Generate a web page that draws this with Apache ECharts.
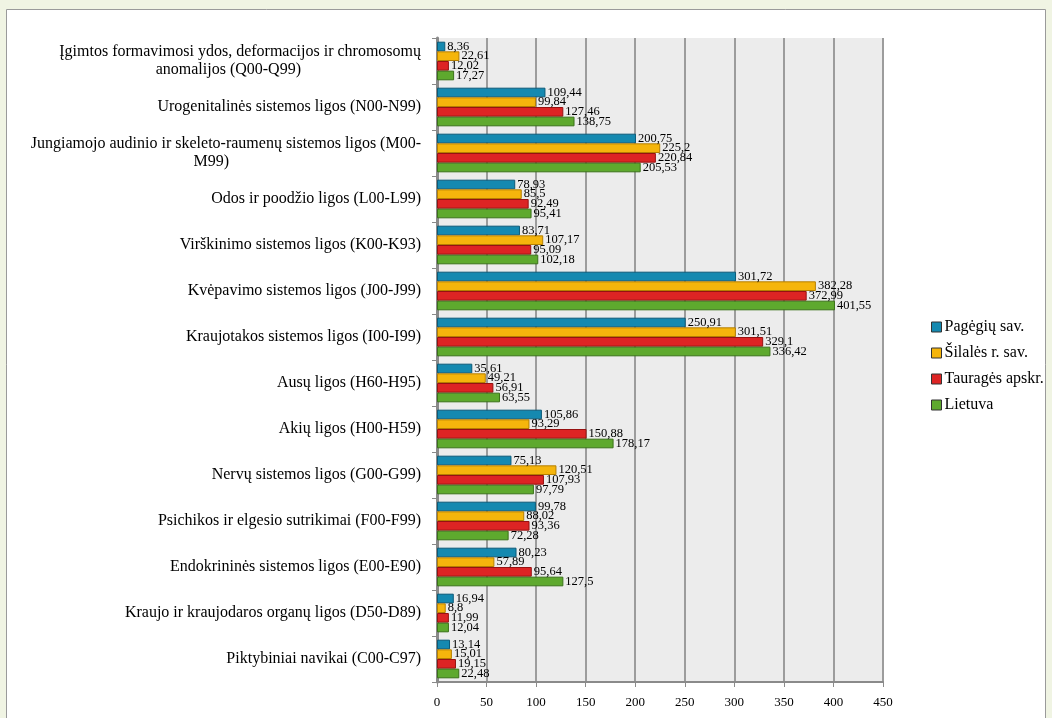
<!DOCTYPE html>
<html>
<head>
<meta charset="utf-8">
<script src="https://cdn.jsdelivr.net/npm/echarts@6/dist/echarts.min.js"></script>
<style>
  html, body { margin: 0; padding: 0; background: #f0f4e3; }
  #chart { width: 1052px; height: 718px; }
</style>
</head>
<body>
<div id="chart"></div>
<script>
// categories, top to bottom
const pad = n => "\u00a0".repeat(n);
const categories = [
  "Įgimtos formavimosi ydos, deformacijos ir chromosomų\nanomalijos (Q00-Q99)" + pad(30),
  "Urogenitalinės sistemos ligos (N00-N99)",
  "Jungiamojo audinio ir skeleto-raumenų sistemos ligos (M00-\nM99)" + pad(48),
  "Odos ir poodžio ligos (L00-L99)",
  "Virškinimo sistemos ligos (K00-K93)",
  "Kvėpavimo sistemos ligos (J00-J99)",
  "Kraujotakos sistemos ligos (I00-I99)",
  "Ausų ligos (H60-H95)",
  "Akių ligos (H00-H59)",
  "Nervų sistemos ligos (G00-G99)",
  "Psichikos ir elgesio sutrikimai (F00-F99)",
  "Endokrininės sistemos ligos (E00-E90)",
  "Kraujo ir kraujodaros organų ligos (D50-D89)",
  "Piktybiniai navikai (C00-C97)"
];

const pagegiu  = [8.36, 109.44, 200.75, 78.93, 83.71, 301.72, 250.91, 35.61, 105.86, 75.13, 99.78, 80.23, 16.94, 13.14];
const silales  = [22.61, 99.84, 225.2, 85.5, 107.17, 382.28, 301.51, 49.21, 93.29, 120.51, 88.02, 57.89, 8.8, 15.01];
const taurages = [12.02, 127.46, 220.84, 92.49, 95.09, 372.99, 329.1, 56.91, 150.88, 107.93, 93.36, 95.64, 11.99, 19.15];
const lietuva  = [17.27, 138.75, 205.53, 95.41, 102.18, 401.55, 336.42, 63.55, 178.17, 97.79, 72.28, 127.5, 12.04, 22.48];

const seriesNames = ["Pagėgių sav.", "Šilalės r. sav.", "Tauragės apskr.", "Lietuva"];
const seriesData = [pagegiu, silales, taurages, lietuva];
const colors = ["#1589b0", "#f5b50c", "#dd2424", "#5ea92e"];
const borders = ["#0b5a78", "#b57f00", "#961212", "#3a7218"];

const font = "'Liberation Serif', 'DejaVu Serif', serif";

const chart = echarts.init(document.getElementById("chart"));

const option = {
  backgroundColor: "transparent",
  textStyle: { fontFamily: font },
  graphic: [{
    type: "rect",
    z: -10,
    shape: { x: 6.5, y: 9.5, width: 1039, height: 720 },
    style: { fill: "#ffffff", stroke: "#9a9a9a", lineWidth: 1 }
  }],
  legend: {
    orient: "vertical",
    left: 926,
    top: 314,
    itemWidth: 10,
    itemHeight: 10,
    itemGap: 10,
    icon: "rect",
    textStyle: { fontFamily: font, fontSize: 16, color: "#000", padding: [0, 0, 0, -2] },
    itemStyle: { borderColor: "#333", borderWidth: 1 },
    data: seriesNames
  },
  grid: {
    left: 437,
    right: 169,
    top: 38,
    bottom: 36,
    show: true,
    backgroundColor: "#ececec",
    borderWidth: 0
  },
  xAxis: {
    type: "value",
    min: 0,
    max: 450,
    interval: 50,
    axisLine: { show: true, lineStyle: { color: "#8a8a8a", width: 2 } },
    axisTick: { show: true, length: 5, lineStyle: { color: "#8a8a8a" } },
    axisLabel: { fontFamily: font, fontSize: 13, color: "#000", margin: 14 },
    splitLine: { show: true, lineStyle: { color: "#9c9c9c", width: 2 } }
  },
  yAxis: {
    type: "category",
    inverse: true,
    data: categories,
    axisLine: { show: true, lineStyle: { color: "#8a8a8a", width: 3 } },
    axisTick: { show: true, length: 5, lineStyle: { color: "#8a8a8a" } },
    axisLabel: { fontFamily: font, fontSize: 16, color: "#000", margin: 16, lineHeight: 18 }
  },
  series: seriesData.map((d, i) => ({
    name: seriesNames[i],
    type: "bar",
    data: d,
    barGap: "0%",
    barCategoryGap: "16%",
    itemStyle: { color: colors[i], borderColor: borders[i], borderWidth: 1 },
    label: {
      show: true,
      position: "right",
      distance: 2,
      fontFamily: font,
      fontSize: 12.5,
      color: "#000",
      formatter: p => String(p.value).replace(".", ",")
    }
  }))
};

chart.setOption(option);
</script>
</body>
</html>
